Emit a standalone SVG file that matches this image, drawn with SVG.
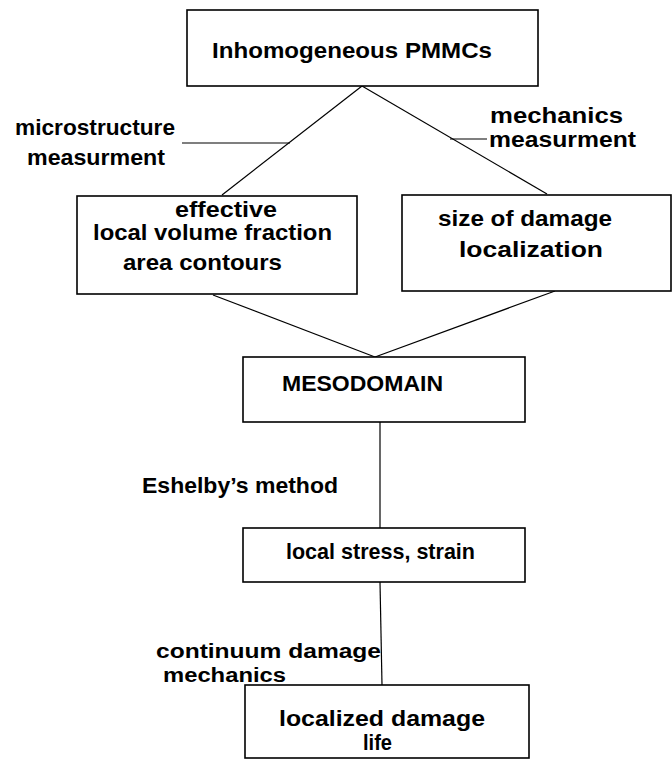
<svg xmlns="http://www.w3.org/2000/svg" width="672" height="760" viewBox="0 0 672 760">
<style>
.box{fill:#fff;stroke:#000;stroke-width:1.6}
.ln{stroke:#000;stroke-width:1.2;fill:none}
text{font-family:"Liberation Sans",Arial,sans-serif;font-weight:bold;font-size:22px;fill:#000}
text.sm{font-size:20px}
</style>
<rect width="672" height="760" fill="#fff"/>
<g id="connectors">
<line class="ln" x1="362" y1="86" x2="222" y2="195"/>
<line class="ln" x1="362" y1="86" x2="547" y2="194"/>
<line class="ln" x1="182" y1="143" x2="290" y2="143"/>
<line class="ln" x1="450" y1="139" x2="487" y2="139"/>
<line class="ln" x1="213" y1="295" x2="375" y2="357"/>
<line class="ln" x1="555" y1="291" x2="375" y2="357"/>
<line class="ln" x1="380" y1="422" x2="380" y2="528"/>
<line class="ln" x1="380" y1="582" x2="382" y2="685"/>
</g>
<g id="labels">
<text x="15" y="135" textLength="160" lengthAdjust="spacingAndGlyphs">microstructure</text>
<text x="27" y="165" textLength="138" lengthAdjust="spacingAndGlyphs">measurment</text>
<text x="490" y="123" textLength="133" lengthAdjust="spacingAndGlyphs">mechanics</text>
<text x="489" y="147" textLength="147" lengthAdjust="spacingAndGlyphs">measurment</text>
<text x="142" y="493" textLength="196" lengthAdjust="spacingAndGlyphs">Eshelby’s method</text>
<text class="sm" x="156" y="658" textLength="225" lengthAdjust="spacingAndGlyphs">continuum damage</text>
<text class="sm" x="163" y="682" textLength="123" lengthAdjust="spacingAndGlyphs">mechanics</text>
</g>
<g id="node-pmmcs">
<rect class="box" x="187" y="10" width="351" height="76"/>
<text x="212" y="58" textLength="280" lengthAdjust="spacingAndGlyphs">Inhomogeneous  PMMCs</text>
</g>
<g id="node-effective">
<rect class="box" x="77" y="196" width="280" height="98"/>
<text x="175" y="217" textLength="102" lengthAdjust="spacingAndGlyphs">effective</text>
<text x="93" y="240" textLength="239" lengthAdjust="spacingAndGlyphs">local volume fraction</text>
<text x="123" y="270" textLength="159" lengthAdjust="spacingAndGlyphs">area contours</text>
</g>
<g id="node-size">
<rect class="box" x="402" y="195" width="269" height="96"/>
<text x="438" y="226" textLength="174" lengthAdjust="spacingAndGlyphs">size of damage</text>
<text x="459" y="257" textLength="144" lengthAdjust="spacingAndGlyphs">localization</text>
</g>
<g id="node-mesodomain">
<rect class="box" x="243" y="357" width="282" height="65"/>
<text x="282" y="391" textLength="161" lengthAdjust="spacingAndGlyphs">MESODOMAIN</text>
</g>
<g id="node-stress">
<rect class="box" x="243" y="528" width="282" height="54"/>
<text x="286" y="559" textLength="189" lengthAdjust="spacingAndGlyphs">local stress, strain</text>
</g>
<g id="node-life">
<rect class="box" x="245" y="685" width="284" height="73"/>
<text x="279" y="726" textLength="206" lengthAdjust="spacingAndGlyphs">localized damage</text>
<text x="363" y="750" textLength="29" lengthAdjust="spacingAndGlyphs">life</text>
</g>
</svg>
